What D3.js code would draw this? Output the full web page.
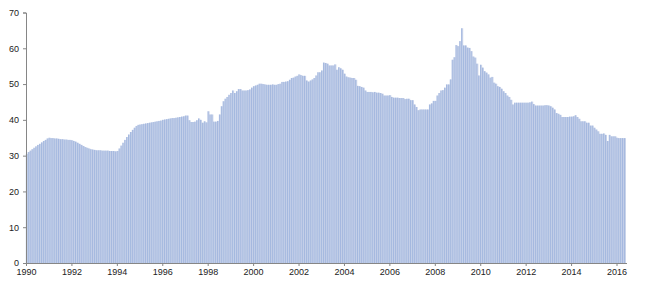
<!DOCTYPE html>
<html><head><meta charset="utf-8">
<script src="https://cdn.jsdelivr.net/npm/d3@7"></script>
<style>html,body{margin:0;padding:0;background:#fff;}svg{display:block;}</style>
</head><body>
<svg id="c" width="647" height="293"></svg>
<script>
const startYear = 1990;
const values1990 = [30.5, 31.0, 31.4, 31.8, 32.2, 32.6, 33.0, 33.3, 33.7, 34.1, 34.4, 34.8];
const values1991 = [35.0, 34.9, 34.9, 34.8, 34.8, 34.7, 34.6, 34.6, 34.5, 34.5, 34.4, 34.4];
const values1992 = [34.3, 34.1, 33.9, 33.6, 33.3, 33.0, 32.7, 32.4, 32.2, 32.0, 31.8, 31.7];
const values1993 = [31.6, 31.5, 31.5, 31.5, 31.4, 31.4, 31.4, 31.4, 31.3, 31.3, 31.3, 31.2];
const values1994 = [31.3, 32.0, 32.8, 33.6, 34.4, 35.2, 35.9, 36.6, 37.2, 37.8, 38.3, 38.6];
const values1995 = [38.7, 38.8, 38.9, 39.0, 39.1, 39.2, 39.3, 39.4, 39.5, 39.6, 39.7, 39.8];
const values1996 = [40.0, 40.1, 40.2, 40.3, 40.4, 40.5, 40.5, 40.6, 40.7, 40.8, 40.9, 41.0];
const values1997 = [41.2, 41.2, 39.9, 39.4, 39.4, 39.5, 39.9, 40.4, 40.0, 39.2, 39.6, 39.3];
const values1998 = [42.4, 41.5, 41.5, 39.5, 39.5, 39.7, 41.5, 43.8, 45.2, 45.9, 46.4, 47.0];
const values1999 = [47.5, 48.2, 47.5, 48.0, 48.6, 48.6, 48.2, 48.2, 48.2, 48.3, 48.5, 49.0];
const values2000 = [49.4, 49.6, 49.8, 50.1, 50.1, 50.0, 49.9, 49.8, 49.8, 49.8, 49.9, 49.8];
const values2001 = [49.8, 50.0, 50.1, 50.6, 50.6, 50.7, 50.8, 51.2, 51.7, 51.8, 52.1, 52.3];
const values2002 = [52.7, 52.5, 52.3, 52.3, 51.0, 50.7, 51.0, 51.3, 51.7, 52.4, 53.3, 53.3];
const values2003 = [53.8, 56.0, 55.9, 55.7, 55.2, 55.2, 55.2, 55.5, 54.0, 54.7, 54.4, 54.0];
const values2004 = [52.9, 52.1, 51.9, 51.8, 51.7, 51.7, 51.2, 49.5, 49.4, 49.2, 49.0, 48.2];
const values2005 = [47.8, 47.8, 47.8, 47.7, 47.8, 47.6, 47.6, 47.5, 47.3, 46.8, 46.8, 46.8];
const values2006 = [46.9, 46.4, 46.2, 46.2, 46.2, 46.1, 46.1, 46.1, 45.8, 45.9, 45.9, 45.5];
const values2007 = [45.5, 44.3, 43.6, 42.7, 42.9, 42.9, 42.9, 42.9, 42.9, 44.3, 44.6, 45.3];
const values2008 = [45.3, 46.8, 47.5, 48.2, 48.3, 49.0, 49.9, 49.9, 51.3, 56.8, 57.5, 60.9];
const values2009 = [60.6, 62.0, 65.6, 60.8, 60.8, 60.2, 60.1, 59.2, 57.7, 57.4, 55.7, 52.4];
const values2010 = [55.4, 54.6, 53.6, 53.2, 52.7, 51.8, 52.0, 50.4, 50.1, 49.4, 49.2, 48.7];
const values2011 = [48.0, 47.5, 46.8, 46.4, 45.6, 44.3, 44.8, 44.8, 44.8, 44.8, 44.8, 44.8];
const values2012 = [44.8, 44.8, 44.9, 45.1, 44.4, 44.0, 44.0, 44.0, 44.0, 44.0, 44.1, 44.1];
const values2013 = [44.0, 43.8, 43.4, 42.9, 41.9, 41.7, 41.4, 40.8, 40.8, 40.8, 40.8, 40.9];
const values2014 = [40.9, 41.0, 41.3, 40.8, 40.3, 39.6, 39.6, 39.6, 39.2, 39.2, 38.4, 38.4];
const values2015 = [37.8, 37.3, 36.8, 36.1, 36.1, 36.2, 35.8, 34.1, 35.8, 35.4, 35.4, 35.4];
const values2016 = [35.0, 34.9, 34.9, 34.9, 34.9];

const yTicks = [0, 10, 20, 30, 40, 50, 60, 70];
const xTickYears = [1990, 1992, 1994, 1996, 1998, 2000, 2002, 2004, 2006, 2008, 2010, 2012, 2014, 2016];

const values = [].concat(values1990, values1991, values1992, values1993, values1994, values1995,
  values1996, values1997, values1998, values1999, values2000, values2001, values2002, values2003,
  values2004, values2005, values2006, values2007, values2008, values2009, values2010, values2011,
  values2012, values2013, values2014, values2015, values2016);

const svg = d3.select("#c");
const x = d3.scaleLinear().domain([0, 312]).range([26, 616.5]);
const y = d3.scaleLinear().domain([0, 70]).range([263, 12.5]);
const step = x(1) - x(0);

const g = svg.append("g");
g.selectAll("rect.bar").data(values).join("rect")
  .attr("class", "bar")
  .attr("x", (d, i) => x(i))
  .attr("width", step)
  .attr("y", d => y(d))
  .attr("height", d => y(0) - y(d))
  .attr("fill", "#c9d3ea");
g.selectAll("line.edge").data(values).join("line")
  .attr("class", "edge")
  .attr("x1", (d, i) => x(i) + 0.3).attr("x2", (d, i) => x(i) + 0.3)
  .attr("y1", d => y(d)).attr("y2", y(0))
  .attr("stroke", "#7797d1").attr("stroke-width", 0.5);

// axes
const font = "Liberation Sans, Arial, sans-serif";
const yAxis = d3.axisLeft(y).tickValues(yTicks).tickSize(3).tickPadding(4);
const ya = svg.append("g").attr("transform", "translate(26,0)").call(yAxis);
const xAxis = d3.axisBottom(x).tickValues(xTickYears.map(yr => (yr - startYear) * 12))
  .tickFormat(v => String(startYear + v / 12)).tickSize(3).tickPadding(3);
const xa = svg.append("g").attr("transform", "translate(0,263)").call(xAxis);
xa.select(".domain").attr("d", "M26,0.5H627");
[ya, xa].forEach(a => {
  a.select(".domain").attr("stroke", "#868686");
  a.selectAll(".tick line").attr("stroke", "#868686");
  a.selectAll("text").attr("fill", "#222").style("font-family", font).style("font-size", "9px");
});
</script>
</body></html>
